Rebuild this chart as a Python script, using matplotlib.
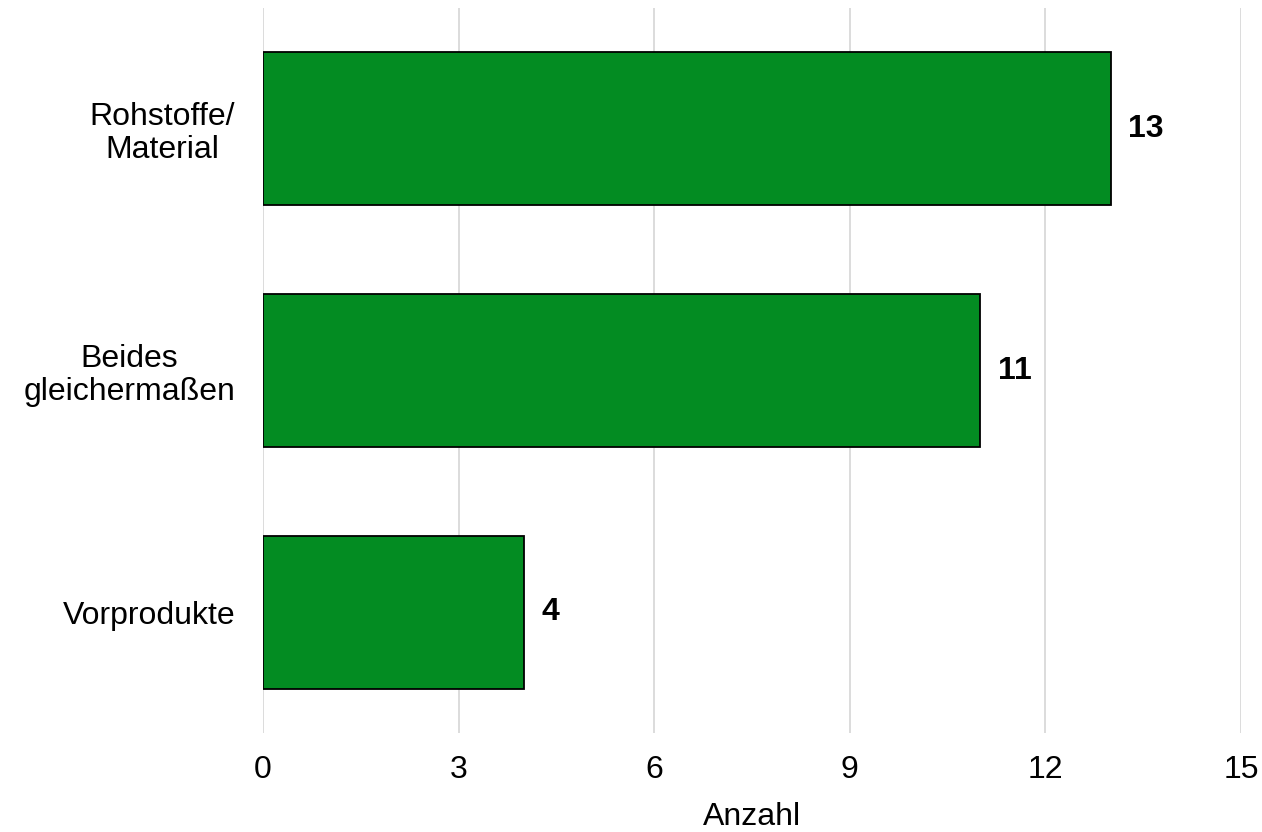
import matplotlib.pyplot as plt

kategorien = ["Rohstoffe/\nMaterial", "Beides\ngleichermaßen", "Vorprodukte"]
anzahl = [13, 11, 4]
xticks = [0, 3, 6, 9, 12, 15]

plt.rcParams['font.family'] = ['Liberation Sans', 'DejaVu Sans']

fig = plt.figure(figsize=(12.62, 8.32), dpi=100)
ax = fig.add_axes([263 / 1262, 1 - 733 / 832, (1241 - 263) / 1262, 725 / 832])

pos = list(range(len(kategorien)))
ax.barh(pos, anzahl, height=0.633, color="#038C22", edgecolor="black", linewidth=1.3, zorder=3)

for p, v in zip(pos, anzahl):
    ax.text(v + 0.27, p, str(v), va="center", ha="left", fontsize=23, fontweight="bold")

ax.set_xlim(0, 15)
ax.set_ylim(2.5, -0.5)
ax.set_xticks(xticks)
ax.set_yticks(pos)
ax.set_yticklabels(kategorien, fontsize=23, linespacing=1.13, multialignment="center")
ax.tick_params(axis="x", labelsize=23, length=0, pad=16)
ax.tick_params(axis="y", length=0, pad=20)
ax.xaxis.grid(True, color="#d9d9d9", linewidth=1.3, zorder=0)
for s in ax.spines.values():
    s.set_visible(False)
ax.set_xlabel("Anzahl", fontsize=23, labelpad=12)

fig.savefig("out.png", dpi=100)
